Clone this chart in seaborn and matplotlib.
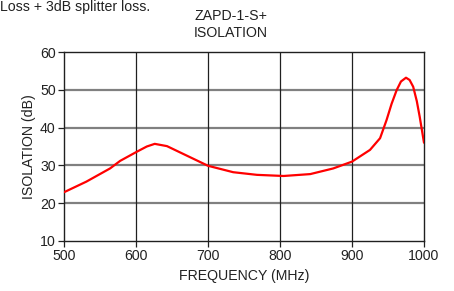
import matplotlib
matplotlib.use("Agg")
import matplotlib.pyplot as plt
import seaborn as sns
import pandas as pd

freq_mhz = [500, 531, 564, 578, 601, 615, 626, 643, 666, 700, 735, 768, 805, 842, 874,
            900, 925, 939, 948, 955, 962, 968, 975, 980, 985, 990, 994, 1000]
isolation_db = [22.9, 25.7, 29.2, 31.2, 33.6, 35.0, 35.7, 35.1, 33.0, 29.9, 28.2, 27.5, 27.2,
                27.7, 29.2, 31.0, 34.1, 37.2, 42.0, 46.3, 49.9, 52.2, 53.2, 52.6, 50.8, 47.0,
                42.9, 36.0]
x_ticks = [500, 600, 700, 800, 900, 1000]
y_ticks = [10, 20, 30, 40, 50, 60]

sns.set_style("white")
plt.rcParams['font.family'] = ['Liberation Sans', 'DejaVu Sans']

FS = 10.2
df = pd.DataFrame({"freq": freq_mhz, "iso": isolation_db})

fig = plt.figure(figsize=(4.54, 2.91), dpi=100)
ax = fig.add_axes([64/454, 1-241/291, 360/454, 189/291])

for yv in y_ticks[1:-1]:
    ax.axhline(yv, color="#808080", lw=1.6, zorder=1)
for xv in x_ticks[1:-1]:
    ax.axvline(xv, color="#202020", lw=0.9, zorder=1)

sns.lineplot(data=df, x="freq", y="iso", ax=ax, color="#ff0000", lw=1.6, zorder=3)

ax.set_xlim(500, 1000)
ax.set_ylim(10, 60)
ax.set_xticks(x_ticks)
ax.set_yticks(y_ticks)
ax.tick_params(axis="both", direction="out", length=4, width=0.9, color="#202020",
               labelsize=FS, labelcolor="#222222", pad=2, left=True, bottom=True)
for s in ax.spines.values():
    s.set_color("#202020")
    s.set_linewidth(1.0)
ax.set_xlabel("FREQUENCY (MHz)", fontsize=FS, color="#222222", labelpad=4)
ax.set_ylabel("ISOLATION (dB)", fontsize=FS, color="#222222", labelpad=3)

fig.text(231/454, 1-16/291, "ZAPD-1-S+", ha="center", va="center", fontsize=FS, color="#222222")
fig.text(231/454, 1-33/291, "ISOLATION", ha="center", va="center", fontsize=FS, color="#222222")
fig.text(0.5/454, 1-7/291, "Loss + 3dB splitter loss.", ha="left", va="center", fontsize=FS, color="#222222")

fig.savefig("out.png", dpi=100)
